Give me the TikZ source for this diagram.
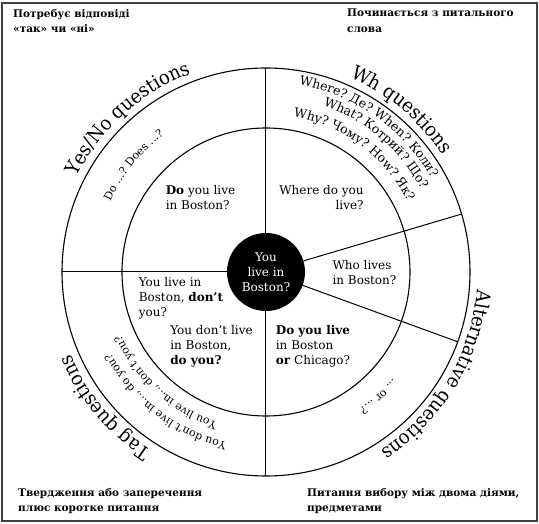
\documentclass[tikz,border=0pt]{standalone}
\usepackage{fontspec}
\setmainfont{DejaVu Serif}
\newfontfamily\labelfam[FakeStretch=0.92]{DejaVu Serif}
\usetikzlibrary{decorations.text}

\newcommand{\cellfont}{\fontsize{12}{15}\selectfont}
\newcommand{\bigfont}{\labelfam\fontsize{19.5}{23}\selectfont}
\newcommand{\whfont}{\fontsize{12.5}{15}\selectfont}
\newcommand{\ringfont}{\fontsize{11}{13}\selectfont}
\newcommand{\notefont}{\fontsize{10.5}{15.5}\selectfont\bfseries}

\tikzset{
  rim/.style={line width=1.1pt},
  spoke/.style={line width=1pt},
  cell/.style={font=\cellfont, inner sep=0pt},
  note/.style={font=\notefont, align=left, inner sep=0pt, anchor=north west},
  hubnode/.style={circle, fill=black, minimum size=78pt, inner sep=0pt,
                  text=white, font=\cellfont, align=center}
}

\begin{document}
\begin{tikzpicture}[x=1pt, y=1pt]
  \useasboundingbox (-266,-252) rectangle (273,272);

  % frame
  \draw[line width=1.2pt, black!75] (-264,-249) rectangle (271,269);

  % rings
  \draw[rim] (0,0) circle[radius=144];
  \draw[rim] (0,0) circle[radius=204];

  % centre
  \node[hubnode] (hub) at (0,0) {You\\live in\\Boston?};

  % spokes
  \coordinate (rimN) at (90:204);
  \coordinate (rimS) at (-90:204);
  \coordinate (rimW) at (180:204);
  \coordinate (rimA) at (16.5:204);
  \coordinate (rimB) at (-20:204);
  \draw[spoke] (rimN) -- (hub);
  \draw[spoke] (hub) -- (rimS);
  \draw[spoke] (rimW) -- (hub);
  \draw[spoke] (hub) -- (rimA);
  \draw[spoke] (hub) -- (rimB);

  % inner sectors
  \node[cell, align=left]  (qdo)    at (-65.5,74.5) {\textbf{Do} you live\\in Boston?};
  \node[cell, align=right] (qwhere) at (55.5,74.5)  {Where do you\\live?};
  \node[cell, align=left]  (qwho)   at (98.5,-0.5)  {Who lives\\in Boston?};
  \node[cell, align=left]  (qtagA)  at (-85,-26)    {You live in\\Boston, \textbf{don’t}\\you?};
  \node[cell, align=left]  (qtagB)  at (-54.5,-74.5) {You don’t live\\in Boston,\\\textbf{do you?}};
  \node[cell, align=left]  (qalt)   at (47,-74.5)   {\textbf{Do you live}\\in Boston\\\textbf{or} Chicago?};

  % middle ring
  \path[decorate, decoration={text along path,
        text={|\ringfont|Do ...? Does ...?}}]
    (155.5:171) arc[start angle=155.5, end angle=90, radius=171];
  \path[decorate, decoration={text along path,
        text={|\whfont|Where? Де? When? Коли?}}]
    (80:190) arc[start angle=80, end angle=0, radius=190];
  \path[decorate, decoration={text along path,
        text={|\whfont|What? Котрий? Що?}}]
    (71:176) arc[start angle=71, end angle=0, radius=176];
  \path[decorate, decoration={text along path,
        text={|\whfont|Why? Чому? How? Як?}}]
    (80:158) arc[start angle=80, end angle=0, radius=158];
  \path[decorate, decoration={text along path,
        text={|\ringfont|... or ...?}}]
    (-40:166) arc[start angle=-40, end angle=-90, radius=166];
  \path[decorate, decoration={text along path,
        text={|\ringfont|You live in..., don’t you?}}]
    (-108:158) arc[start angle=-108, end angle=-200, radius=158];
  \path[decorate, decoration={text along path,
        text={|\ringfont|You don’t live in..., do you?}}]
    (-103:175) arc[start angle=-103, end angle=-200, radius=175];

  % outer labels
  \path[decorate, decoration={text along path, text align=center,
        text={|\bigfont|Yes/No questions}}]
    (172:212) arc[start angle=172, end angle=92, radius=212];
  \path[decorate, decoration={text along path, text align=center,
        text={|\bigfont|Wh questions}}]
    (90:212) arc[start angle=90, end angle=10, radius=212];
  \path[decorate, decoration={text along path, text align=center,
        text={|\bigfont|Alternative questions}}]
    (9:212) arc[start angle=9, end angle=-71, radius=212];
  \path[decorate, decoration={text along path, text align=center,
        text={|\bigfont|Tag questions}}]
    (-100:212) arc[start angle=-100, end angle=-180, radius=212];

  % corner notes
  \node[note] (noteYN)  at (-253,263) {Потребує відповіді\\«так» чи «ні»};
  \node[note] (noteWh)  at (81,263)   {Починається з питального\\слова};
  \node[note] (noteTag) at (-248,-216) {Твердження або заперечення\\плюс коротке питання};
  \node[note] (noteAlt) at (41,-216)  {Питання вибору між двома діями,\\предметами};
\end{tikzpicture}
\end{document}
